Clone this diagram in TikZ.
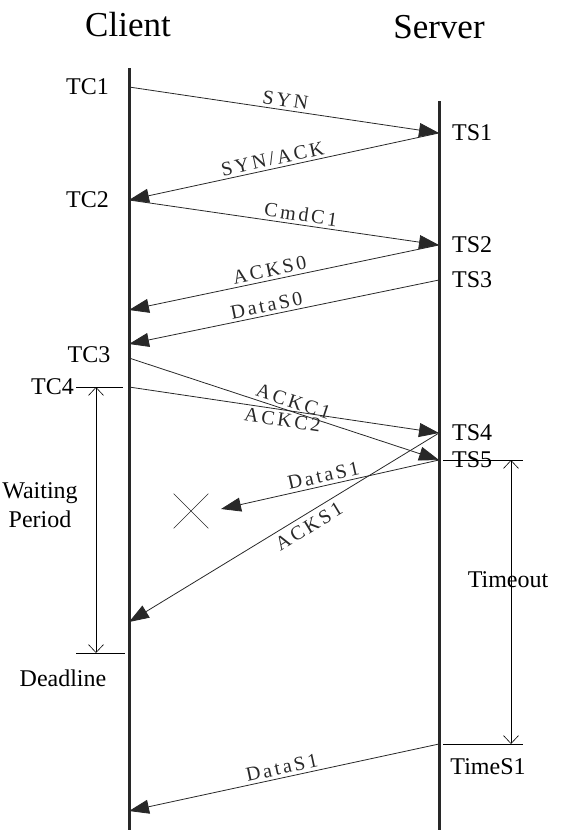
\documentclass[tikz,border=0pt]{standalone}
\usepackage{fontspec}
\setmainfont{Liberation Serif}
\newfontfamily\msgfont{Liberation Serif}[LetterSpace=14]
\usetikzlibrary{arrows.meta, positioning, shapes.misc}
\definecolor{inkgray}{RGB}{40,40,40}

\begin{document}
\begin{tikzpicture}[x=1pt, y=-1pt,
    lifeline/.style={line width=3pt, inkgray},
    msg/.style={-{Triangle[length=20pt, width=14pt]}, inkgray, line width=0.8pt},
    msglbl/.style={font=\msgfont\fontsize{20}{20}\selectfont, sloped, inner sep=3pt},
    tlbl/.style={font=\fontsize{24}{29}\selectfont, inner sep=0pt},
    headlbl/.style={font=\fontsize{35}{35}\selectfont, inner sep=0pt},
    span/.style={{Straight Barb[length=8pt, width=15pt]}-{Straight Barb[length=8pt, width=15pt]}, line width=0.6pt},
    tick/.style={line width=0.8pt}]
    \useasboundingbox (0,0) rectangle (567,835);

    % lifelines
    \node[headlbl] (client) at (128,25) {Client};
    \node[headlbl] (server) at (439,27) {Server};
    \coordinate (ctop) at (129,68);
    \coordinate (cbot) at (129,830);
    \coordinate (stop) at (439,101);
    \coordinate (sbot) at (439,830);
    \draw[lifeline] (ctop) -- (cbot);
    \draw[lifeline] (stop) -- (sbot);

    % events on the client
    \coordinate (tc1) at (129,87);
    \coordinate (tc2) at (129,200);
    \coordinate (acks0in) at (129,310);
    \coordinate (datas0in) at (129,344);
    \coordinate (tc3) at (129,358);
    \coordinate (tc4) at (129,387);
    \coordinate (acks1in) at (129,622);
    \coordinate (ddl) at (129,653);
    \coordinate (datas1in) at (129,811);

    % events on the server
    \coordinate (ts1) at (439,133);
    \coordinate (ts2) at (439,245);
    \coordinate (ts3) at (439,280);
    \coordinate (ts4) at (439,433);
    \coordinate (ts5) at (439,460);
    \coordinate (times1) at (439,744);

    % time labels
    \node[tlbl, left=20pt of tc1] (tc1l) {TC1};
    \node[tlbl, left=20pt of tc2] (tc2l) {TC2};
    \node[tlbl] (tc3l) at (89,355) {TC3};
    \node[tlbl, left=55pt of tc4] (tc4l) {TC4};
    \node[tlbl, right=13pt of ts1] (ts1l) {TS1};
    \node[tlbl, right=13pt of ts2] (ts2l) {TS2};
    \node[tlbl, right=13pt of ts3] (ts3l) {TS3};
    \node[tlbl, right=13pt of ts4] (ts4l) {TS4};
    \node[tlbl, right=13pt of ts5] (ts5l) {TS5};
    \node[tlbl] (times1l) at (488,767) {TimeS1};

    % messages
    \draw[msg] (tc1) -- node[msglbl, above] (synl) {SYN} (ts1);
    \draw[msg] (ts1) -- node[msglbl, above, pos=0.53] (synackl) {SYN/ACK} (tc2);
    \draw[msg] (tc2) -- node[msglbl, above, pos=0.55] (cmdl) {CmdC1} (ts2);
    \draw[msg] (ts2) -- node[msglbl, above, pos=0.54] (acks0l) {ACKS0} (acks0in);
    \draw[msg] (ts3) -- node[msglbl, above, pos=0.55] (datas0l) {DataS0} (datas0in);
    \draw[msg] (tc3) -- node[msglbl, above, pos=0.52] (ackc1l) {ACKC1} (ts5);
    \draw[msg] (tc4) -- node[msglbl, below, pos=0.5] (ackc2l) {ACKC2} (ts4);

    % lost packet
    \node[cross out, draw, inkgray, line width=0.6pt, minimum size=34pt, inner sep=0pt] (lost) at (191,511) {};
    \coordinate (lostend) at (221,509);
    \draw[msg] (ts5) -- node[msglbl, above, pos=0.52] (lostl) {DataS1} (lostend);
    \draw[msg] (ts4) -- node[msglbl, below, pos=0.44, inner sep=5pt] (acks1l) {ACKS1} (acks1in);

    % resend
    \draw[msg] (times1) -- node[msglbl, above, pos=0.5] (resendl) {DataS1} (datas1in);

    % waiting period
    \coordinate (wtl) at (76,387);
    \coordinate (wtr) at (123,387);
    \coordinate (wbl) at (76,653);
    \coordinate (wbr) at (125,653);
    \coordinate (wtop) at (96,387);
    \coordinate (wbot) at (96,653);
    \draw[tick] (wtl) -- (wtr);
    \draw[tick] (wbl) -- (wbr);
    \draw[span] (wtop) -- (wbot);
    \node[tlbl, align=center] (waitl) at (40,505) {Waiting\\Period};
    \node[tlbl] (ddll) at (63,678) {Deadline};

    % timeout
    \coordinate (otl) at (443,460);
    \coordinate (otr) at (523,460);
    \coordinate (obl) at (443,744);
    \coordinate (obr) at (523,744);
    \coordinate (otop) at (511,460);
    \coordinate (obot) at (511,744);
    \draw[tick] (otl) -- (otr);
    \draw[tick] (obl) -- (obr);
    \draw[span] (otop) -- (obot);
    \node[tlbl] (timeoutl) at (508,580) {Timeout};
\end{tikzpicture}
\end{document}
